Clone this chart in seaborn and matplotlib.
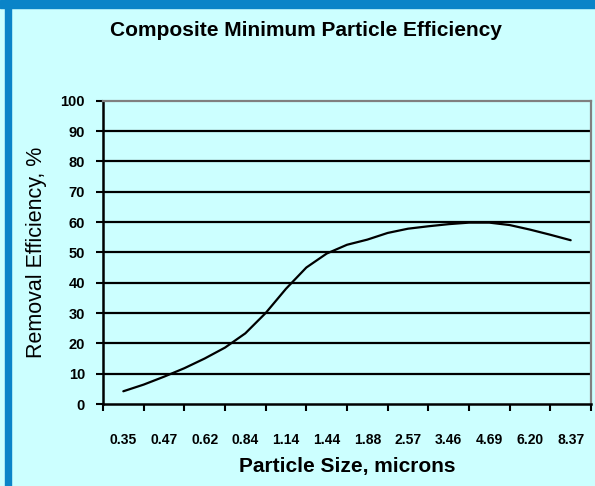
import numpy as np
import pandas as pd
import seaborn as sns
import matplotlib.pyplot as plt
from matplotlib.patches import Rectangle

# --------------------------------------------------------------
# Data
# --------------------------------------------------------------
size_labels = ["0.35", "0.47", "0.62", "0.84", "1.14", "1.44",
               "1.88", "2.57", "3.46", "4.69", "6.20", "8.37"]

# efficiency sampled at every category centre and half-way between them
efficiency = [4.2, 6.4, 9.0, 11.8, 15.0, 18.6, 23.3, 30.0, 38.0, 45.0,
              49.6, 52.5, 54.2, 56.4, 57.8, 58.6, 59.3, 59.8, 59.8,
              59.0, 57.5, 55.8, 54.0]

bg = "#CCFFFF"
frame_blue = "#0A84C8"

sns.set_theme(style="white")
plt.rcParams["font.family"] = ["Liberation Sans", "DejaVu Sans"]
plt.rcParams.update({"text.color": "black", "axes.labelcolor": "black",
                     "xtick.color": "black", "ytick.color": "black"})

df = pd.DataFrame({"pos": np.arange(len(efficiency)) * 0.5,
                   "eff": efficiency})

fig = plt.figure(figsize=(5.95, 4.86), dpi=100, facecolor=bg)
ax = fig.add_axes([0.1731, 0.1687, 0.8202, 0.6241])
ax.set_facecolor(bg)

# blue frame on the left and top of the picture
fig.patches.append(Rectangle((5 / 595, 0), 6 / 595, 1, transform=fig.transFigure,
                             color=frame_blue, zorder=0))
fig.patches.append(Rectangle((0, 1 - 8 / 486), 1, 8 / 486, transform=fig.transFigure,
                             color=frame_blue, zorder=0))

# horizontal gridlines
for v in range(10, 100, 10):
    ax.axhline(v, color="black", lw=1.6, zorder=1)

sns.lineplot(data=df, x="pos", y="eff", color="black", lw=1.6, ax=ax, zorder=3)

ax.set_xlim(-0.5, 11.5)
ax.set_ylim(0, 100)

# category axis: tick marks between categories, labels at centres
ax.set_xticks(np.arange(-0.5, 12, 1))
ax.set_xticklabels([])
ax.set_xticks(np.arange(12), minor=True)
ax.set_xticklabels(size_labels, minor=True, fontsize=10, fontweight="bold")
ax.tick_params(axis="x", which="major", direction="out", length=5, width=1.5,
               color="black", bottom=True)
ax.tick_params(axis="x", which="minor", length=0, pad=21)

ax.set_yticks(range(0, 101, 10))
ax.set_yticklabels([str(v) for v in range(0, 101, 10)], fontsize=10.5, fontweight="bold")
ax.tick_params(axis="y", direction="out", length=5, width=1.5, color="black",
               left=True, pad=8)

for side in ["left", "bottom"]:
    ax.spines[side].set_color("black")
    ax.spines[side].set_linewidth(1.8)
for side in ["top", "right"]:
    ax.spines[side].set_color("#808080")
    ax.spines[side].set_linewidth(1.6)

ax.set_xlabel("Particle Size, microns", fontsize=15, fontweight="bold", labelpad=7)
ax.set_ylabel("Removal Efficiency, %", fontsize=15.5, labelpad=10)
fig.text(0.515, 0.938, "Composite Minimum Particle Efficiency", ha="center", va="center",
         fontsize=15, fontweight="bold")

fig.savefig("out.png", dpi=100, facecolor=bg)
